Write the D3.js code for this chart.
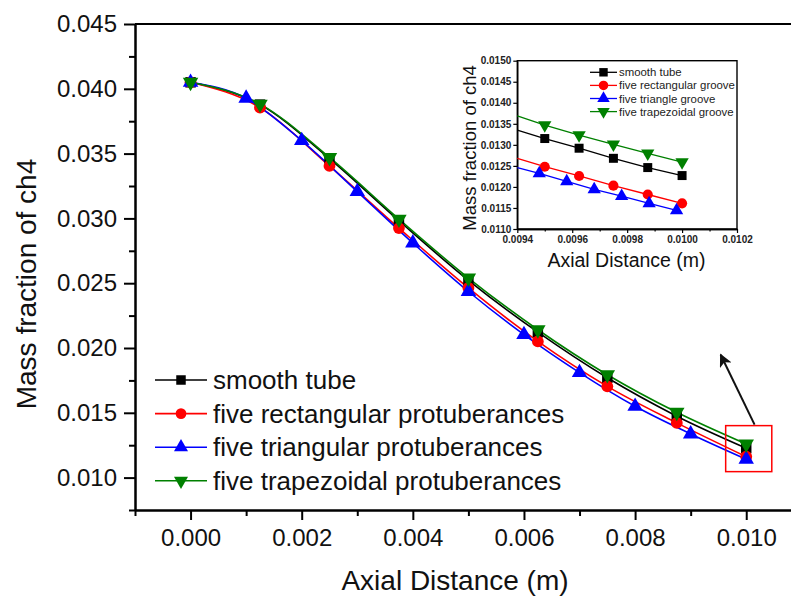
<!DOCTYPE html>
<html>
<head>
<meta charset="utf-8">
<script src="https://cdn.jsdelivr.net/npm/d3@7"></script>
<style>
  html, body { margin: 0; padding: 0; background: #fff; }
  svg { display: block; font-family: "Liberation Sans", Arial, sans-serif; }
</style>
</head>
<body>
<svg id="chart" width="791" height="597"></svg>
<script>
// ---- main plot data: CH4 mass fraction along the tube ----
const xMain = [0, 0.00125, 0.0025, 0.00375, 0.005, 0.00625, 0.0075, 0.00875, 0.010];
const xTriangular = [0, 0.001, 0.002, 0.003, 0.004, 0.005, 0.006, 0.007, 0.008, 0.009, 0.010];
const smoothTube = [0.0405, 0.03878, 0.03462, 0.02982, 0.02522, 0.02122, 0.01770, 0.01474, 0.01227];
const rectangular = [0.0405, 0.03855, 0.03405, 0.02925, 0.02463, 0.02051, 0.01704, 0.01422, 0.01161];
const triangular = [0.0405, 0.03927, 0.03600, 0.03207, 0.02810, 0.02436, 0.02103, 0.01810, 0.01550, 0.01337, 0.01142];
const trapezoidal = [0.0405, 0.03882, 0.03470, 0.02994, 0.02540, 0.02141, 0.01794, 0.01504, 0.01259];

const mainXTicks = [0, 0.002, 0.004, 0.006, 0.008, 0.010];
const mainXMinor = [-0.001, 0.001, 0.003, 0.005, 0.007, 0.009, 0.011];
const mainYTicks = [0.010, 0.015, 0.020, 0.025, 0.030, 0.035, 0.040, 0.045];
const mainYMinor = [0.0075, 0.0125, 0.0175, 0.0225, 0.0275, 0.0325, 0.0375, 0.0425];

const mainLabels = ["smooth tube", "five rectangular protuberances",
                    "five triangular protuberances", "five trapezoidal protuberances"];

// ---- zoomed detail near the outlet ----
const insetX = [0.0094, 0.0095, 0.009625, 0.00975, 0.009875, 0.0100];
const insetTriX = [0.0094, 0.00948, 0.00958, 0.00968, 0.00978, 0.00988, 0.00998];
const insetSmooth = [0.01335, 0.01315, 0.01292, 0.01268, 0.01246, 0.01227];
const insetRect = [0.01268, 0.01248, 0.01226, 0.01203, 0.01182, 0.01161];
const insetTri = [0.01246, 0.01232, 0.01213, 0.01194, 0.01178, 0.01161, 0.01144];
const insetTrap = [0.01369, 0.01347, 0.01323, 0.01301, 0.01280, 0.01259];

const insetXTicks = [0.0094, 0.0096, 0.0098, 0.0100, 0.0102];
const insetXMinor = [0.0095, 0.0097, 0.0099, 0.0101];
const insetYTicks = [0.0110, 0.0115, 0.0120, 0.0125, 0.0130, 0.0135, 0.0140, 0.0145, 0.0150];
const insetLabels = ["smooth tube", "five rectangular groove", "five triangle groove", "five trapezoidal groove"];

// highlighted outlet region and pointer arrow (data units)
const boxX = [0.00963, 0.01046];
const boxY = [0.01046, 0.01401];
const arrowFrom = [0.01015, 0.01409];
const arrowTo = [0.00954, 0.01948];

const colors = ["#000000", "#ff0000", "#0000ff", "#008000"];
const symbols = [d3.symbolSquare, d3.symbolCircle, d3.symbolTriangle, d3.symbolTriangle];

const svg = d3.select("#chart");

// one marker glyph; the trapezoidal series uses a down-pointing triangle
function marker(sel, i, size) {
  sel.append("path")
    .attr("d", d3.symbol().type(symbols[i]).size(i >= 2 ? size * 0.9 : size * 0.95)())
    .attr("transform", i === 3 ? "rotate(180)" : null)
    .attr("fill", colors[i]);
}

function drawMarkers(g, xs, ys, x, y, i, size, keep) {
  xs.forEach((xv, k) => {
    if (keep && !keep(xv)) return;
    const m = g.append("g").attr("transform", `translate(${x(xv)},${y(ys[k])})`);
    marker(m, i, size);
  });
}

// ================= main plot =================
const x = d3.scaleLinear().domain([-0.001, 0.011]).range([135, 801.8]);
const y = d3.scaleLinear().domain([0.0075, 0.045]).range([510, 24]);

const axisStyle = g => {
  g.select(".domain").attr("stroke-width", 2);
  g.selectAll(".tick line").attr("stroke-width", 2);
};

// y axis
svg.append("g").attr("transform", "translate(135,0)")
  .call(d3.axisLeft(y).tickValues(mainYMinor).tickSize(6).tickFormat("").tickSizeOuter(0))
  .call(axisStyle);
svg.append("g").attr("transform", "translate(135,0)")
  .call(d3.axisLeft(y).tickValues(mainYTicks).tickSize(11).tickPadding(7)
        .tickFormat(d3.format(".3f")).tickSizeOuter(0))
  .call(axisStyle)
  .call(g => g.selectAll("text").attr("font-size", 24).attr("fill", "#111")
        .attr("font-family", "Liberation Sans, Arial, sans-serif"));

// x axis
svg.append("g").attr("transform", "translate(0,510)")
  .call(d3.axisBottom(x).tickValues(mainXMinor).tickSize(6).tickFormat("").tickSizeOuter(0))
  .call(axisStyle);
svg.append("g").attr("transform", "translate(0,510)")
  .call(d3.axisBottom(x).tickValues(mainXTicks).tickSize(10).tickPadding(9)
        .tickFormat(d3.format(".3f")).tickSizeOuter(0))
  .call(axisStyle)
  .call(g => g.selectAll("text").attr("font-size", 24).attr("fill", "#111")
        .attr("font-family", "Liberation Sans, Arial, sans-serif"));

// top frame line
svg.append("line")
  .attr("x1", x.range()[0]).attr("x2", x.range()[1])
  .attr("y1", y(0.045)).attr("y2", y(0.045))
  .attr("stroke", "#000").attr("stroke-width", 2);

// axis titles
svg.append("text").attr("x", 455).attr("y", 590).attr("text-anchor", "middle")
  .attr("font-size", 28).attr("fill", "#111").text("Axial Distance (m)");
svg.append("text").attr("transform", "translate(36,284) rotate(-90)")
  .attr("text-anchor", "middle").attr("font-size", 28).attr("fill", "#111")
  .text("Mass fraction of ch4");

// series
const mainSeries = [
  { xs: xMain, ys: smoothTube },
  { xs: xMain, ys: rectangular },
  { xs: xTriangular, ys: triangular },
  { xs: xMain, ys: trapezoidal }
];
const mainLine = d3.line().curve(d3.curveMonotoneX);
const gMain = svg.append("g");
mainSeries.forEach((s, i) => {
  gMain.append("path")
    .attr("d", mainLine(s.xs.map((xv, k) => [x(xv), y(s.ys[k])])))
    .attr("fill", "none").attr("stroke", colors[i]).attr("stroke-width", 1.6);
});
mainSeries.forEach((s, i) => drawMarkers(gMain, s.xs, s.ys, x, y, i, 115));

// legend
const legend = svg.append("g");
mainLabels.forEach((lab, i) => {
  const cy = 380 + i * 33.6;
  legend.append("line").attr("x1", 155).attr("x2", 207).attr("y1", cy).attr("y2", cy)
    .attr("stroke", colors[i]).attr("stroke-width", 1.6);
  const m = legend.append("g").attr("transform", `translate(181,${cy})`);
  marker(m, i, 95);
  legend.append("text").attr("x", 213).attr("y", cy + 9).attr("font-size", 26)
    .attr("fill", "#111").text(lab);
});

// highlight box and arrow
svg.append("rect")
  .attr("x", x(boxX[0])).attr("y", y(boxY[1]))
  .attr("width", x(boxX[1]) - x(boxX[0])).attr("height", y(boxY[0]) - y(boxY[1]))
  .attr("fill", "none").attr("stroke", "#ff0000").attr("stroke-width", 1.5);

svg.append("defs").append("marker")
  .attr("id", "arrowhead").attr("viewBox", "0 0 10 10")
  .attr("refX", 9).attr("refY", 5).attr("markerWidth", 6.5).attr("markerHeight", 6.5)
  .attr("markerUnits", "strokeWidth").attr("orient", "auto")
  .append("path").attr("d", "M0,0 L10,5 L0,10 L2.5,5 Z").attr("fill", "#111");
svg.append("line")
  .attr("x1", x(arrowFrom[0])).attr("y1", y(arrowFrom[1]))
  .attr("x2", x(arrowTo[0])).attr("y2", y(arrowTo[1]))
  .attr("stroke", "#111").attr("stroke-width", 2).attr("marker-end", "url(#arrowhead)");

// ================= inset plot =================
const ix = d3.scaleLinear().domain([0.0094, 0.0102]).range([517.3, 737]);
const iy = d3.scaleLinear().domain([0.0110, 0.0150]).range([229, 60.7]);
const inset = svg.append("g");

inset.append("rect")
  .attr("x", ix.range()[0]).attr("y", iy.range()[1])
  .attr("width", ix.range()[1] - ix.range()[0]).attr("height", iy.range()[0] - iy.range()[1])
  .attr("fill", "none").attr("stroke", "#000").attr("stroke-width", 1.4);

const insetAxisStyle = g => {
  g.select(".domain").attr("stroke-width", 1.4);
  g.selectAll(".tick line").attr("stroke-width", 1.2);
  g.selectAll("text").attr("font-size", 10).attr("font-weight", "bold").attr("fill", "#222")
    .attr("font-family", "Liberation Sans, Arial, sans-serif");
};
inset.append("g").attr("transform", `translate(${ix.range()[0]},0)`)
  .call(d3.axisLeft(iy).tickValues(insetYTicks).tickSize(4).tickPadding(2)
        .tickFormat(d3.format(".4f")).tickSizeOuter(0))
  .call(insetAxisStyle);
inset.append("g").attr("transform", `translate(0,${iy.range()[0]})`)
  .call(d3.axisBottom(ix).tickValues(insetXMinor).tickSize(2.5).tickFormat("").tickSizeOuter(0))
  .call(insetAxisStyle);
inset.append("g").attr("transform", `translate(0,${iy.range()[0]})`)
  .call(d3.axisBottom(ix).tickValues(insetXTicks).tickSize(4).tickPadding(3)
        .tickFormat(d3.format(".4f")).tickSizeOuter(0))
  .call(insetAxisStyle);

inset.append("text").attr("x", 626.5).attr("y", 266.5).attr("text-anchor", "middle")
  .attr("font-size", 19.5).attr("fill", "#111").text("Axial Distance (m)");
inset.append("text").attr("transform", "translate(476,148) rotate(-90)")
  .attr("text-anchor", "middle").attr("font-size", 18.5).attr("fill", "#111")
  .text("Mass fraction of ch4");

const insetSeries = [
  { xs: insetX, ys: insetSmooth },
  { xs: insetX, ys: insetRect },
  { xs: insetTriX, ys: insetTri },
  { xs: insetX, ys: insetTrap }
];
const insetLine = d3.line();
insetSeries.forEach((s, i) => {
  inset.append("path")
    .attr("d", insetLine(s.xs.map((xv, k) => [ix(xv), iy(s.ys[k])])))
    .attr("fill", "none").attr("stroke", colors[i]).attr("stroke-width", 1.3);
});
insetSeries.forEach((s, i) =>
  drawMarkers(inset, s.xs, s.ys, ix, iy, i, 85, xv => xv > ix.domain()[0]));

insetLabels.forEach((lab, i) => {
  const cy = 72.3 + i * 13.1;
  inset.append("line").attr("x1", 590).attr("x2", 617).attr("y1", cy).attr("y2", cy)
    .attr("stroke", colors[i]).attr("stroke-width", 1.3);
  const m = inset.append("g").attr("transform", `translate(603.5,${cy})`);
  marker(m, i, 75);
  inset.append("text").attr("x", 619).attr("y", cy + 4).attr("font-size", 11.4)
    .attr("fill", "#222").text(lab);
});
</script>
</body>
</html>
